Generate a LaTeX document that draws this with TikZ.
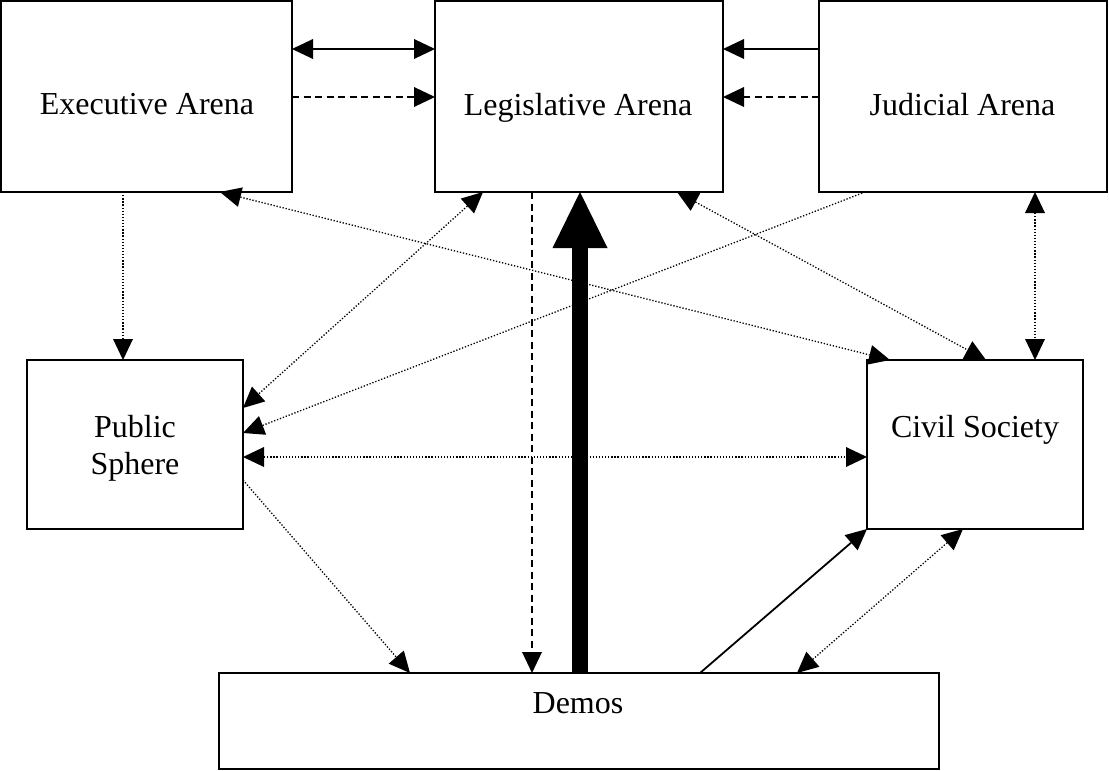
\documentclass[tikz,border=0pt]{standalone}
\usepackage{fontspec}
\setmainfont{Liberation Serif}
\usetikzlibrary{arrows.meta,calc}
\begin{document}
\begin{tikzpicture}[x=1pt,y=-1pt,
  >={Triangle[length=21pt,width=20pt,line width=0pt]},
  box/.style={draw, line width=2pt, fill=white, inner sep=0pt, outer sep=0pt},
  lbl/.style={font=\fontsize{32}{36}\selectfont, inner sep=0pt, anchor=base},
  solidc/.style={line width=1.8pt},
  dashc/.style={line width=1.8pt, dash pattern=on 7pt off 4.5pt},
  dotc/.style={line width=1.3pt, dash pattern=on 1.3pt off 1.8pt},
  bigc/.style={line width=15.7pt, -{Triangle[length=56pt,width=55pt,line width=0pt]}}
]
\useasboundingbox (0,0) rectangle (1109,771);

% boxes
\node[box, minimum width=291pt, minimum height=191pt] (exec)  at (146.5,96.5) {};
\node[box, minimum width=288pt, minimum height=191pt] (leg)   at (579,96.5) {};
\node[box, minimum width=288pt, minimum height=191pt] (jud)   at (963,96.5) {};
\node[box, minimum width=216pt, minimum height=169pt] (ps)    at (135,444.5) {};
\node[box, minimum width=216pt, minimum height=169pt] (cs)    at (975,444.5) {};
\node[box, minimum width=720pt, minimum height=96pt]  (demos) at (579,721) {};

% labels
\node[lbl] (exect) at (147,114) {Executive Arena};
\node[lbl] (legt)  at (578,115) {Legislative Arena};
\node[lbl] (judt)  at (962.5,115) {Judicial Arena};
\node[lbl] (pst1)  at (135,437) {Public};
\node[lbl] (pst2)  at (135,474) {Sphere};
\node[lbl] (cst)   at (975,437) {Civil Society};
\node[lbl] (demt)  at (578,713) {Demos};

% top row connectors
\draw[solidc,<->] ($(exec.north east)+(0,48)$) -- ($(leg.north west)+(0,48)$);
\draw[dashc,->]   ($(exec.north east)+(0,96)$) -- ($(leg.north west)+(0,96)$);
\draw[solidc,->]  ($(jud.north west)+(0,48)$) -- ($(leg.north east)+(0,48)$);
\draw[dashc,->]   ($(jud.north west)+(0,96)$) -- ($(leg.north east)+(0,96)$);

% executive
\draw[dotc,->]  ($(exec.south west)+(122,0)$) -- ($(ps.north west)+(96,0)$);
\draw[dotc,<->] ($(exec.south west)+(219,0)$) -- ($(cs.north west)+(23,0)$);

% legislative
\draw[dotc,<->] ($(leg.south west)+(48,0)$) -- ($(ps.north east)+(0,48)$);
\draw[dotc,<->] ($(leg.south west)+(242,0)$) -- ($(cs.north west)+(119,0)$);
\draw[dashc,->] ($(leg.south west)+(97,0)$) -- ($(demos.north west)+(313,0)$);

% judicial
\draw[dotc,->]  ($(jud.south west)+(46,0)$) -- ($(ps.north east)+(0,73)$);
\draw[dotc,<->] ($(jud.south west)+(216,0)$) -- ($(cs.north west)+(168,0)$);

% public sphere / civil society / demos
\draw[dotc,<->] ($(ps.north east)+(0,97)$) -- ($(cs.north west)+(0,97)$);
\draw[dotc,->]  ($(ps.north east)+(0,120)$) -- ($(demos.north west)+(191,0)$);
\draw[bigc]     ($(demos.north west)+(361,0)$) -- ($(leg.south west)+(145,0)$);
\draw[solidc,->] ($(demos.north west)+(481,0)$) -- (cs.south west);
\draw[dotc,<->] ($(cs.south west)+(96,0)$) -- ($(demos.north west)+(578,0)$);
\end{tikzpicture}
\end{document}
